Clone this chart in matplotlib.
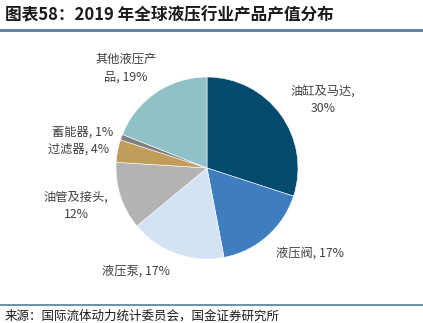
import matplotlib.pyplot as plt
from matplotlib.lines import Line2D

plt.rcParams['font.family'] = ['Noto Sans CJK SC', 'DejaVu Sans']

names = ['油缸及马达', '液压阀', '液压泵', '油管及接头', '过滤器', '蓄能器', '其他液压产品']
shares = [30, 17, 17, 12, 4, 1, 19]
colors = ['#024A6E', '#3E7EBE', '#D3E3F3', '#B3B3B3', '#C19D5B', '#7F7F7F', '#90C0C8']

# label text (with line breaks), anchor position in pixel space, alignment
label_text = ['油缸及马达,\n30%', '液压阀, 17%', '液压泵, 17%', '油管及接头,\n12%',
              '过滤器, 4%', '蓄能器, 1%', '其他液压产\n品, 19%']
label_pos = [(323, 100), (310, 253), (136, 271), (76, 206), (109, 149), (113, 132), (126, 68)]
label_ha = ['center', 'center', 'center', 'center', 'right', 'right', 'center']

W, H = 423, 323
fig = plt.figure(figsize=(W / 100, H / 100), dpi=100)
ax = fig.add_axes([0, 0, 1, 1])

ax.pie(shares, colors=colors, startangle=90, counterclock=False,
       center=(207, H - 168), radius=91,
       wedgeprops=dict(edgecolor='white', linewidth=0.4))
ax.set_xlim(0, W)
ax.set_ylim(0, H)
ax.set_aspect('equal')
ax.axis('off')

for txt, (px, py), ha in zip(label_text, label_pos, label_ha):
    ax.text(px, H - py, txt, ha=ha, va='center', fontsize=8.8,
            color='#404040', linespacing=1.45, multialignment='center')

# header and footer
ax.text(5, H - 15, '图表58：2019 年全球液压行业产品产值分布',
        fontsize=12, fontweight='bold', style='italic', color='#1a1a1a', va='center')
ax.add_line(Line2D([0, W], [H - 30, H - 30], color='#4F7F9F', linewidth=2))
ax.add_line(Line2D([0, W], [H - 305, H - 305], color='#4F7F9F', linewidth=1.2))
ax.text(5, H - 316, '来源：国际流体动力统计委员会，国金证券研究所', fontsize=9,
        color='#1a1a1a', va='center')

fig.savefig('out.png', dpi=100)
